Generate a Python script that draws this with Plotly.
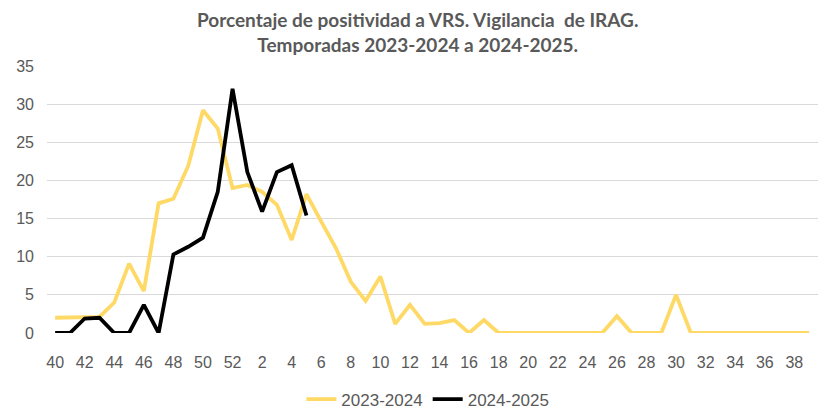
import plotly.graph_objects as go

# ── Colours ──────────────────────────────────────────────────────────────────
GOLD = "#FFD966"
BLACK = "#000000"
GRID = "#D9D9D9"
TEXT = "#595959"

# Epidemiological weeks 40..52 then 1..39
weeks = [str(w) for w in range(40, 53)] + [str(w) for w in range(1, 40)]

season_2324 = [
    2.0, 2.0, 2.0, 2.1, 4.0, 9.1, 5.5, 17.0, 17.6, 21.9, 29.2, 26.8, 19.0,
    19.4, 18.5, 16.8, 12.2, 18.2, 14.6, 11.1, 6.7, 4.2, 7.4, 1.2, 3.7, 1.2,
    1.3, 1.7, 0.0, 1.7, 0.0, 0.0, 0.0, 0.0, 0.0, 0.0, 0.0, 0.0, 2.2, 0.0,
    0.0, 0.0, 5.0, 0.0, 0.0, 0.0, 0.0, 0.0, 0.0, 0.0, 0.0, 0.0,
]
season_2425 = [
    0.0, 0.0, 1.9, 2.0, 0.0, 0.0, 3.7, 0.0, 10.3, 11.3, 12.5, 18.5, 32.0,
    21.1, 15.9, 21.1, 22.0, 15.4,
]

fig = go.Figure()
fig.add_trace(go.Scatter(x=weeks, y=season_2324, mode="lines", name="2023-2024",
                         line=dict(color=GOLD, width=3.8), cliponaxis=False))
fig.add_trace(go.Scatter(x=weeks[:len(season_2425)], y=season_2425, mode="lines", name="2024-2025",
                         line=dict(color=BLACK, width=3.8), cliponaxis=False))

fig.update_layout(
    width=819, height=419,
    margin=dict(l=47, r=1, t=66, b=80),
    paper_bgcolor="white", plot_bgcolor="white",
    font=dict(family="Liberation Sans", color=TEXT, size=16),
    title=dict(
        text="<b>Porcentaje de positividad a VRS. Vigilancia  de IRAG.<br>Temporadas 2023-2024 a 2024-2025.</b>",
        x=0.51, xanchor="center", yref="container", y=0.935, yanchor="middle",
        font=dict(family="Lato", size=19, color=TEXT),
    ),
    xaxis=dict(
        type="category", range=[-0.55, 51.6], dtick=2, tick0=0, automargin=False,
        showgrid=False, showline=False, zeroline=False, ticks="",
        ticklabelstandoff=18, tickangle=0,
    ),
    yaxis=dict(
        range=[0, 35], dtick=5, gridcolor=GRID, gridwidth=1.3, automargin=False,
        zeroline=False, showline=False, ticks="", ticklabelstandoff=12,
    ),
    legend=dict(orientation="h", x=0.494, xanchor="center", y=-0.249, yanchor="middle",
                font=dict(size=17, color=TEXT)),
    showlegend=True,
)

# drop the browser's default 8px body margin so the figure fills the window
fig.write_html("out.html", config={"displayModeBar": False},
               post_script="document.body.style.margin = '0';")
